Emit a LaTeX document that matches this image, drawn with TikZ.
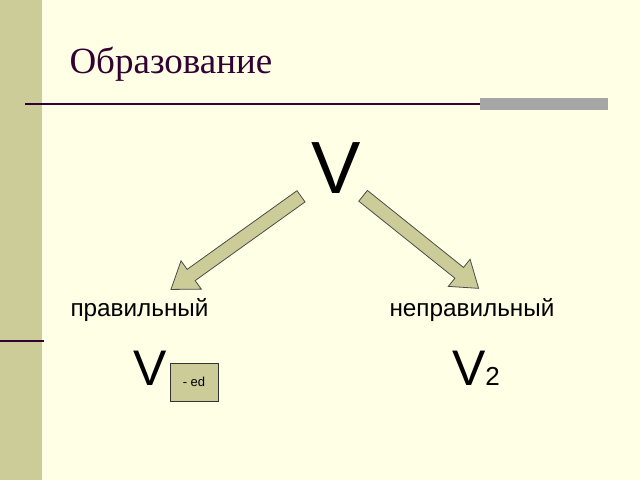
\documentclass[tikz,border=0pt]{standalone}
\usepackage{fontspec}
\setmainfont{Liberation Serif}
\newfontfamily\sansf{Liberation Sans}
\usetikzlibrary{shapes.arrows}
\definecolor{paper}{HTML}{FFFFE5}
\definecolor{olive}{HTML}{CCCC99}
\definecolor{plum}{HTML}{330033}
\tikzset{
  bigarrow/.style={single arrow,draw=black!70,fill=olive,line width=.8pt,
    inner sep=0pt,single arrow head extend=10.5pt,
    single arrow tip angle=70},
  word/.style={font=\sansf\fontsize{24.3}{24}\selectfont,anchor=west},
  letter/.style={font=\sansf\fontsize{50}{50}\selectfont}
}
\begin{document}
\begin{tikzpicture}[x=1pt,y=-1pt]
  \fill[paper] (0,0) rectangle (640,480);
  \useasboundingbox (0,0) rectangle (640,480);
  \fill[olive] (0,0) rectangle (42,480);
  \draw[plum,line width=2pt] (0,341) -- (44,341);
  \node[anchor=west,text=plum,font=\fontsize{37}{37}\selectfont] (title) at (66,64) {Образование};
  \draw[plum,line width=1.2pt] (25,104) -- (608,104);
  \fill[black!35] (480,98) rectangle (608,110);
  % verb and branches
  \node[letter,font=\sansf\fontsize{74}{74}\selectfont] (v) at (336,168) {V};
  \node[bigarrow,minimum height=160pt,rotate=215.6] (left) at (240,240) {\rule{0pt}{13pt}};
  \node[bigarrow,minimum height=148pt,rotate=-38.7] (right) at (417,239) {\rule{0pt}{13pt}};
  \node[word] (reg) at (67,310) {правильный};
  \node[word] (irr) at (386,310) {неправильный};
  \node[letter] (v1) at (150,368) {V};
  \node[draw=black!80,fill=olive,font=\sansf\fontsize{13}{13}\selectfont,
    minimum width=48pt,minimum height=38pt,inner sep=0pt] (ed) at (194,382) {- ed};
  \node[letter] (v2) at (476,368) {V{\fontsize{26}{26}\selectfont 2}};
\end{tikzpicture}
\end{document}
